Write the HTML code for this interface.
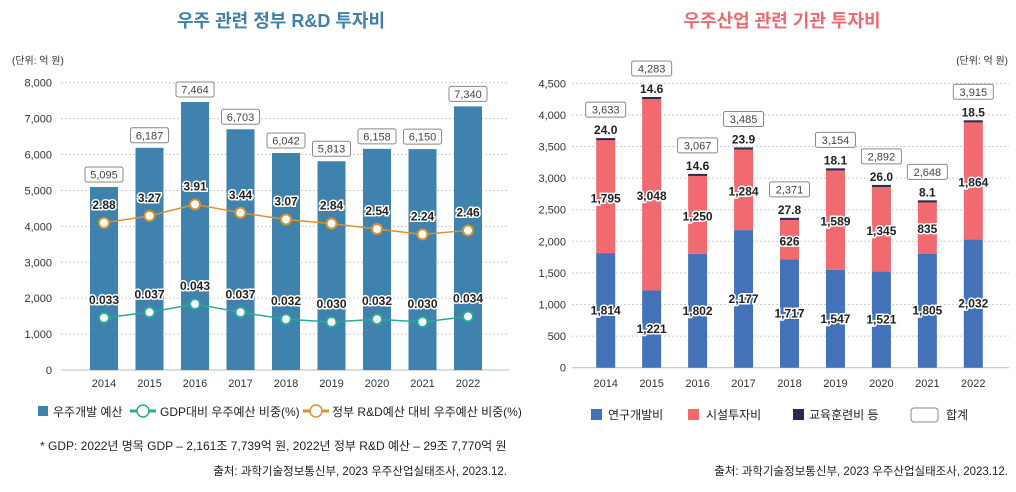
<!DOCTYPE html>
<html><head><meta charset="utf-8">
<style>
html,body{margin:0;padding:0;background:#fff;}
svg{display:block;font-family:"Liberation Sans","Noto Sans CJK KR",sans-serif;}
</style></head>
<body>
<svg id="c" width="1016" height="492" viewBox="0 0 1016 492">
<text x="281" y="27" text-anchor="middle" font-size="18" font-weight="bold" fill="#3f80aa">우주 관련 정부 R&amp;D 투자비</text>
<text x="782" y="27" text-anchor="middle" font-size="18" font-weight="bold" fill="#ee6a70">우주산업 관련 기관 투자비</text>
<text x="12" y="64" font-size="10" fill="#333">(단위: 억 원)</text>
<text x="1008" y="64" text-anchor="end" font-size="10" fill="#333">(단위: 억 원)</text>
<g id="L"></g><g id="R"></g>
<g font-size="12" fill="#222">
<rect x="38" y="406" width="10" height="10" fill="#3f82ad"/>
<text x="53" y="416">우주개발 예산</text>
<line x1="130" y1="411" x2="156" y2="411" stroke="#2aa89a" stroke-width="3"/>
<circle cx="143" cy="411" r="6" fill="#fff" stroke="#2aa89a" stroke-width="1.5"/>
<text x="160" y="416">GDP대비 우주예산 비중(%)</text>
<line x1="303" y1="411" x2="329" y2="411" stroke="#d9922e" stroke-width="3"/>
<circle cx="316" cy="411" r="6" fill="#fff" stroke="#d9922e" stroke-width="1.5"/>
<text x="332" y="416">정부 R&amp;D예산 대비 우주예산 비중(%)</text>
</g>
<text x="40" y="450" font-size="12" fill="#222">* GDP: 2022년 명목 GDP – 2,161조 7,739억 원, 2022년 정부 R&amp;D 예산 – 29조 7,770억 원</text>
<text x="507" y="475" text-anchor="end" font-size="11.5" fill="#222">출처: 과학기술정보통신부, 2023 우주산업실태조사, 2023.12.</text>
<g font-size="12" fill="#222">
<rect x="591" y="409" width="11" height="11" fill="#4472b8"/>
<text x="608" y="419">연구개발비</text>
<rect x="688" y="409" width="11" height="11" fill="#f06a70"/>
<text x="706" y="419">시설투자비</text>
<rect x="793" y="409" width="11" height="11" fill="#262a50"/>
<text x="809" y="419">교육훈련비 등</text>
<rect x="911" y="408" width="27" height="14" rx="3" fill="#fff" stroke="#888"/>
<text x="946" y="419">합계</text>
</g>
<text x="1008" y="475" text-anchor="end" font-size="11.5" fill="#222">출처: 과학기술정보통신부, 2023 우주산업실태조사, 2023.12.</text>
</svg>
<script>
const years=["2014","2015","2016","2017","2018","2019","2020","2021","2022"];
const budget=[5095,6187,7464,6703,6042,5813,6158,6150,7340];
const rndRatio=[2.88,3.27,3.91,3.44,3.07,2.84,2.54,2.24,2.46];
const gdpRatio=[0.033,0.037,0.043,0.037,0.032,0.030,0.032,0.030,0.034];
const leftTicks=[0,1000,2000,3000,4000,5000,6000,7000,8000];
const rdCost=[1814,1221,1802,2177,1717,1547,1521,1805,2032];
const facCost=[1795,3048,1250,1284,626,1589,1345,835,1864];
const eduCost=[24.0,14.6,14.6,23.9,27.8,18.1,26.0,8.1,18.5];
const totals=[3633,4283,3067,3485,2371,3154,2892,2648,3915];
const eduLabels=["24.0","14.6","14.6","23.9","27.8","18.1","26.0","8.1","18.5"];
const rightTicks=[0,500,1000,1500,2000,2500,3000,3500,4000,4500];

const NS="http://www.w3.org/2000/svg";
function mk(p,t,a,txt){const e=document.createElementNS(NS,t);for(const k in a)e.setAttribute(k,a[k]);if(txt!==undefined)e.textContent=txt;p.appendChild(e);return e;}
const fmt=v=>v.toLocaleString("en-US");
function halo(p,x,y,s,size){
 return mk(p,"text",{x:x,y:y,"text-anchor":"middle","font-size":size,"font-weight":"bold",fill:"#222",stroke:"#fff","stroke-width":3,"paint-order":"stroke"},s);}

const L=document.getElementById("L");
const ly=v=>370-v*(287.3/8000);
const lx=i=>104+i*45.5;
const yR=v=>229-(v-2.54)*18;
const yG=v=>322-(v-0.030)*1385;
leftTicks.forEach(t=>{
 const g=mk(L,"line",{x1:61,x2:509,y1:ly(t),y2:ly(t),stroke:t===0?"#bbb":"#ccc","stroke-dasharray":t===0?"":"2,2"});
 
 
 const tl=mk(L,"text",{x:52,y:ly(t)+4,"text-anchor":"end","font-size":11,fill:"#333"},fmt(t));
 
 
});
budget.forEach((v,i)=>{
 const b=mk(L,"rect",{x:lx(i)-14,y:ly(v),width:28,height:370-ly(v),fill:"#3f82ad"});
 
 
 const bx=mk(L,"rect",{x:lx(i)-19,y:ly(v)-20,width:38,height:15,rx:2,fill:"#fff",stroke:"#888"});
 
 
 const t=mk(L,"text",{x:lx(i),y:ly(v)-8.5,"text-anchor":"middle","font-size":11,fill:"#444"},fmt(v));
 
 
 const xl=mk(L,"text",{x:lx(i),y:387,"text-anchor":"middle","font-size":11,fill:"#333"},years[i]);
 
 
});
function series(vals,yf,col,name,fmtf){
 const pl=mk(L,"polyline",{points:vals.map((v,i)=>lx(i)+","+yf(v)).join(" "),fill:"none",stroke:col,"stroke-width":1.5});
 
 
 vals.forEach((v,i)=>{
  const c=mk(L,"circle",{cx:lx(i),cy:yf(v),r:5,fill:"#fff",stroke:col,"stroke-width":2});
  
  
  const t=halo(L,lx(i),yf(v)-14,fmtf(v),12);
  
  
 });
}
series(rndRatio,yR,"#d9922e","rnd-ratio",v=>v.toFixed(2));
series(gdpRatio,yG,"#2aa89a","gdp-ratio",v=>v.toFixed(3));

const R=document.getElementById("R");
const ry=v=>367.7-v*(284.4/4500);
const rx=i=>605.7+i*45.95;
rightTicks.forEach(t=>{
 const g=mk(R,"line",{x1:572,x2:1009,y1:ry(t),y2:ry(t),stroke:t===0?"#bbb":"#ccc","stroke-dasharray":t===0?"":"2,2"});
 
 
 const tl=mk(R,"text",{x:566,y:ry(t)+4,"text-anchor":"end","font-size":11,fill:"#333"},fmt(t));
 
 
});
years.forEach((y,i)=>{
 const x=rx(i)-9.5,w=19;
 const a=rdCost[i],b=facCost[i],c=eduCost[i];
 const r1=mk(R,"rect",{x:x,y:ry(a),width:w,height:ry(0)-ry(a),fill:"#4472b8"});
 
 
 const r2=mk(R,"rect",{x:x,y:ry(a+b),width:w,height:ry(a)-ry(a+b),fill:"#f06a70"});
 
 
 const top=ry(a+b+c);
 const r3=mk(R,"rect",{x:x,y:top,width:w,height:Math.max(2,ry(a+b)-top),fill:"#262a50"});
 
 
 const t1=halo(R,rx(i),(ry(0)+ry(a))/2+4,fmt(a),12);
 
 
 const t2=halo(R,rx(i),(ry(a)+ry(a+b))/2+6,fmt(b),12);
 
 
 const t3=halo(R,rx(i),top-4,eduLabels[i],12);
 
 
 const bx=mk(R,"rect",{x:rx(i)-20,y:top-36,width:40,height:15,rx:2,fill:"#fff",stroke:"#888"});
 
 
 const tt=mk(R,"text",{x:rx(i),y:top-24.5,"text-anchor":"middle","font-size":11,fill:"#444"},fmt(totals[i]));
 
 
 const xl=mk(R,"text",{x:rx(i),y:387,"text-anchor":"middle","font-size":11,fill:"#333"},y);
 
 
});
</script>
</body></html>
